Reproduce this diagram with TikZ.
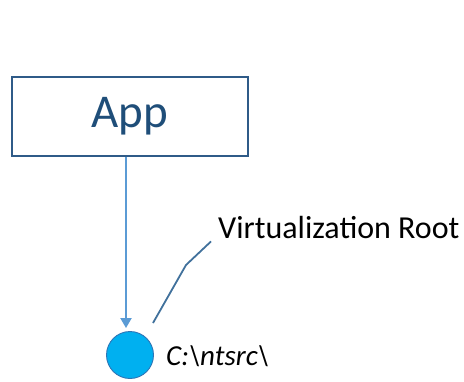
\documentclass[tikz,border=0pt]{standalone}
\usepackage{fontspec}
\setmainfont{Carlito}
\usepackage{tikz}
\usetikzlibrary{arrows.meta,positioning}
\definecolor{boxblue}{HTML}{2F5B88}
\definecolor{txtblue}{HTML}{1F4E79}
\definecolor{arrblue}{HTML}{5B9BD5}
\definecolor{dotcyan}{HTML}{00B0F0}
\definecolor{dotedge}{HTML}{2E75B6}
\definecolor{callout}{HTML}{41719C}
\tikzset{appbox/.style={draw=boxblue,line width=1.4pt,fill=white,minimum width=236pt,minimum height=79pt,font=\fontsize{47}{50}\selectfont,text=txtblue},arr/.style={-{Triangle[length=10pt,width=11pt]},draw=arrblue,line width=2pt},dot/.style={circle,draw=dotedge,line width=0.9pt,fill=dotcyan,minimum size=47pt,inner sep=0pt},lbl/.style={font=\fontsize{32}{36}\selectfont,text=black,inner sep=0pt}}

\begin{document}
\begin{tikzpicture}[x=1pt,y=-1pt]
\useasboundingbox (0,0) rectangle (464,381);
\node[appbox] (app) at (130,116.5) {App};
\node[dot] (root) at (130,355) {};
\draw[arr,shorten >=3pt] ([xshift=-4pt]app.south) -- ([xshift=-4pt]root.north);
\node[lbl,anchor=base west] (vr) at (218,238) {Virtualization Root};
\node[lbl,anchor=base west,font=\fontsize{29}{33}\selectfont] (path) at (166,365) {\textit{C:\textbackslash ntsrc\textbackslash}};
\coordinate (bend) at (186,265);
\coordinate (tail) at (153,323);
\draw[callout,line width=1.8pt] (tail) -- (bend) -- ([xshift=-7pt,yshift=-3pt]vr.south west);
\end{tikzpicture}
\end{document}
